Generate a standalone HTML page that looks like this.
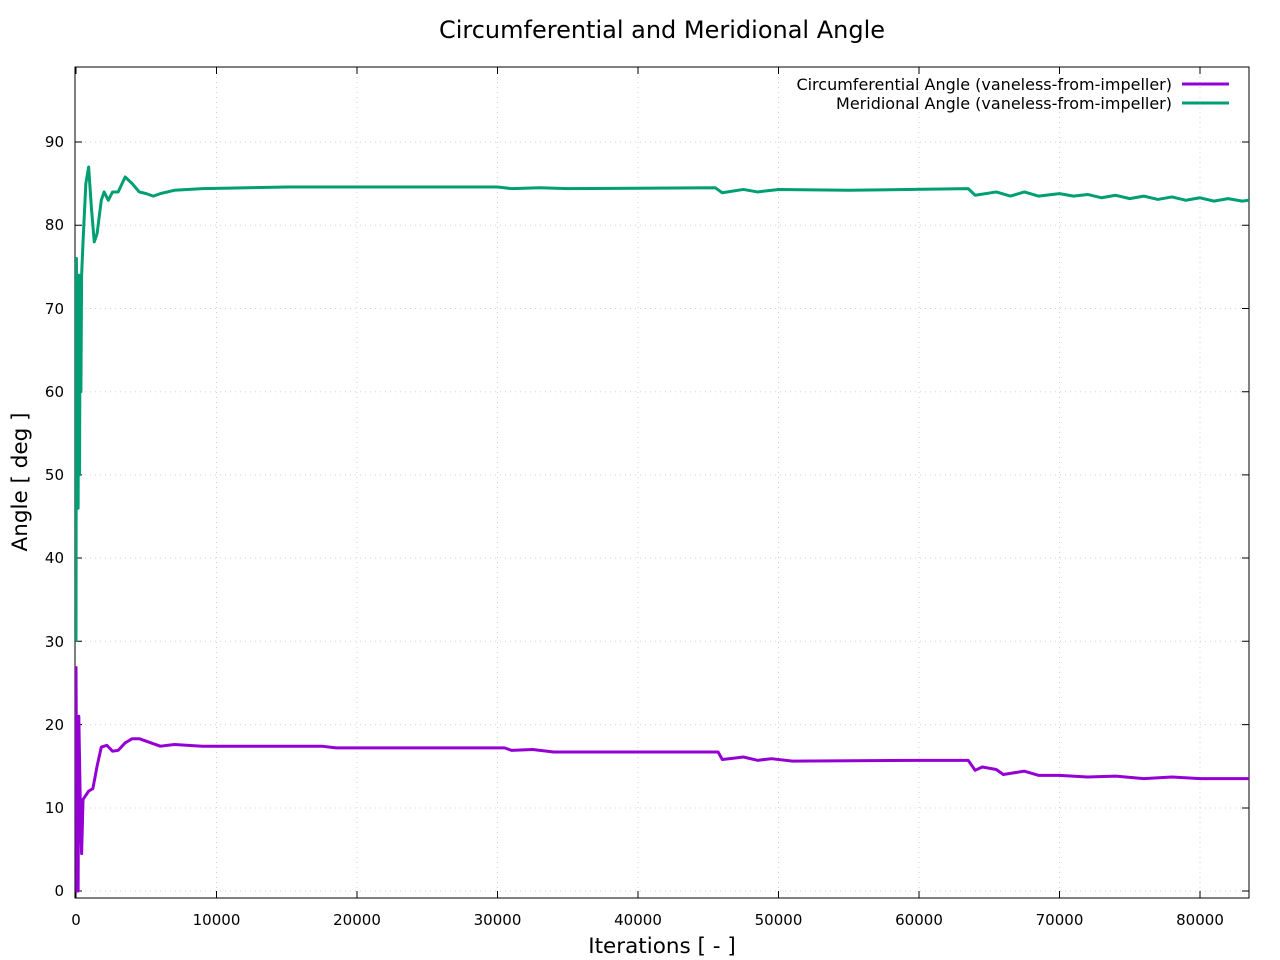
<!DOCTYPE html>
<html><head><meta charset="utf-8"><style>
html,body{margin:0;padding:0;background:#fff;}
svg{display:block;font-family:"DejaVu Sans","Liberation Sans",sans-serif;}
</style></head><body>
<svg width="1280" height="960" viewBox="0 0 1280 960" xmlns="http://www.w3.org/2000/svg">
<rect width="1280" height="960" fill="#fff"/>
<text x="662" y="38" font-size="24" text-anchor="middle">Circumferential and Meridional Angle</text>
<g stroke="#d0d0d0" stroke-width="1" stroke-dasharray="1,4">
<line x1="216.5" y1="67" x2="216.5" y2="898"/><line x1="357" y1="67" x2="357" y2="898"/>
<line x1="497.5" y1="67" x2="497.5" y2="898"/><line x1="638" y1="67" x2="638" y2="898"/>
<line x1="778.5" y1="67" x2="778.5" y2="898"/><line x1="919" y1="67" x2="919" y2="898"/>
<line x1="1059.5" y1="67" x2="1059.5" y2="898"/><line x1="1200" y1="67" x2="1200" y2="898"/>
<line x1="75" y1="891" x2="1249" y2="891"/><line x1="75" y1="808" x2="1249" y2="808"/>
<line x1="75" y1="724.6" x2="1249" y2="724.6"/><line x1="75" y1="641.3" x2="1249" y2="641.3"/>
<line x1="75" y1="558" x2="1249" y2="558"/><line x1="75" y1="474.9" x2="1249" y2="474.9"/>
<line x1="75" y1="391.7" x2="1249" y2="391.7"/><line x1="75" y1="308.5" x2="1249" y2="308.5"/>
<line x1="75" y1="225.2" x2="1249" y2="225.2"/><line x1="75" y1="142" x2="1249" y2="142"/>
</g>
<g stroke="#000" stroke-width="1">
<path d="M76 898v-7M216.5 898v-7M357 898v-7M497.5 898v-7M638 898v-7M778.5 898v-7M919 898v-7M1059.5 898v-7M1200 898v-7
M76 67v7M216.5 67v7M357 67v7M497.5 67v7M638 67v7M778.5 67v7M919 67v7M1059.5 67v7M1200 67v7
M75 891h7M75 808h7M75 724.6h7M75 641.3h7M75 558h7M75 474.9h7M75 391.7h7M75 308.5h7M75 225.2h7M75 142h7
M1249 891h-7M1249 808h-7M1249 724.6h-7M1249 641.3h-7M1249 558h-7M1249 474.9h-7M1249 391.7h-7M1249 308.5h-7M1249 225.2h-7M1249 142h-7"/>
<rect x="75" y="67" width="1174" height="831" fill="none"/>
</g>
<g font-size="15" text-anchor="middle">
<text x="76" y="925">0</text><text x="216.5" y="925">10000</text><text x="357" y="925">20000</text>
<text x="497.5" y="925">30000</text><text x="638" y="925">40000</text><text x="778.5" y="925">50000</text>
<text x="919" y="925">60000</text><text x="1059.5" y="925">70000</text><text x="1200" y="925">80000</text>
</g>
<g font-size="15" text-anchor="end">
<text x="64" y="896">0</text><text x="64" y="813">10</text><text x="64" y="730">20</text><text x="64" y="647">30</text>
<text x="64" y="563">40</text><text x="64" y="480">50</text><text x="64" y="397">60</text><text x="64" y="314">70</text>
<text x="64" y="230">80</text><text x="64" y="147">90</text>
</g>
<text x="662" y="953" font-size="21.5" text-anchor="middle">Iterations [ - ]</text>
<text transform="translate(27,482) rotate(-90)" font-size="21.5" text-anchor="middle">Angle [ deg ]</text>
<g font-size="16" text-anchor="end">
<text x="1172" y="90">Circumferential Angle (vaneless-from-impeller)</text>
<text x="1172" y="109">Meridional Angle (vaneless-from-impeller)</text>
</g>
<line x1="1182" y1="84" x2="1229" y2="84" stroke="#9400d3" stroke-width="3"/>
<line x1="1182" y1="103" x2="1229" y2="103" stroke="#009e73" stroke-width="3"/>
<svg x="75" y="67" width="1174" height="831" overflow="hidden">
<g transform="translate(1,824) scale(0.01405,-8.322)" fill="none" stroke-linejoin="round">
<polyline vector-effect="non-scaling-stroke" stroke="#009e73" stroke-width="3" points="0,30 30,76 60,48 100,70 150,46 200,74 250,50 300,73 350,60 400,74 500,78 700,85 900,87 1100,82 1300,78 1500,79 1800,83 2000,84 2300,83 2600,84 3000,84 3500,85.8 4000,85 4500,84 5000,83.8 5500,83.5 6000,83.8 7000,84.2 9000,84.4 15000,84.6 30000,84.6 31000,84.4 33000,84.5 35000,84.4 45500,84.5 46000,83.9 47500,84.3 48500,84 50000,84.3 55000,84.2 63500,84.4 64000,83.6 65500,84 66500,83.5 67500,84 68500,83.5 70000,83.8 71000,83.5 72000,83.7 73000,83.3 74000,83.6 75000,83.2 76000,83.5 77000,83.1 78000,83.4 79000,83 80000,83.3 81000,82.9 82000,83.2 83000,82.9 84000,83.1"/>
<polyline vector-effect="non-scaling-stroke" stroke="#9400d3" stroke-width="3" points="0,27 30,16 60,0 100,20 150,0 200,21 300,11 400,4.5 500,11 700,11.5 900,12 1200,12.3 1500,15 1800,17.3 2200,17.5 2600,16.8 3000,16.9 3500,17.8 4000,18.3 4500,18.3 5000,18 6000,17.4 7000,17.6 9000,17.4 17500,17.4 18500,17.2 30500,17.2 31000,16.9 32500,17 34000,16.7 45700,16.7 46000,15.8 47000,16 47500,16.1 48500,15.7 49500,15.9 51000,15.6 60000,15.7 63500,15.7 64000,14.5 64500,14.9 65500,14.6 66000,14 67500,14.4 68500,13.9 70000,13.9 72000,13.7 74000,13.8 76000,13.5 78000,13.7 80000,13.5 84000,13.5"/>
</g>
</svg>
</svg>
</body></html>
